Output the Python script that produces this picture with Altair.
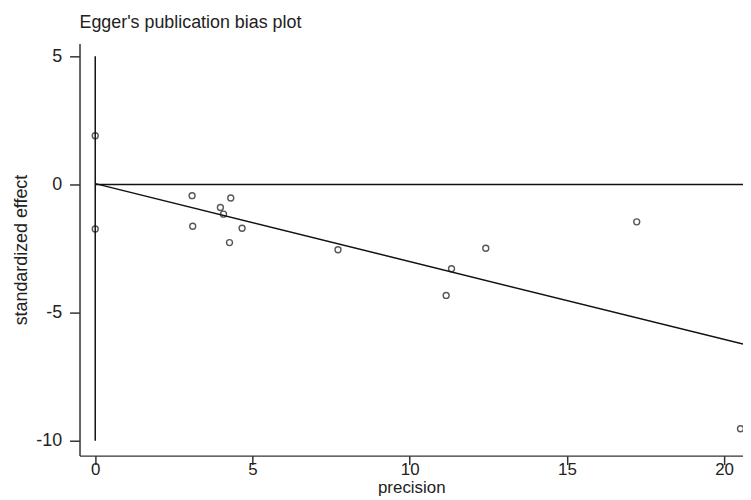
import altair as alt
import pandas as pd

# Study points (precision, standardized effect)
precision = [0.0, 0.0, 3.08, 4.31, 3.98, 4.08, 3.10, 4.67, 4.27, 7.72, 12.42, 11.33, 11.16, 17.22, 20.52]
std_effect = [1.9, -1.74, -0.44, -0.53, -0.90, -1.16, -1.63, -1.71, -2.27, -2.55, -2.49, -3.29, -4.33, -1.46, -9.53]

# Egger regression line end points
reg_x = [0.0, 20.6]
reg_y = [0.03, -6.23]

# Reference lines
zero_x = [0.0, 20.6]
zero_y = [0.0, 0.0]
ci_x = [0.0, 0.0]
ci_y = [-10.0, 5.0]

pts = pd.DataFrame({"x": precision, "y": std_effect})
reg = pd.DataFrame({"x": reg_x, "y": reg_y})
zero = pd.DataFrame({"x": zero_x, "y": zero_y})
ci = pd.DataFrame({"x": ci_x, "y": ci_y})

FONT = "Liberation Sans"
FS = 18
xscale = alt.Scale(domain=[-0.5, 20.6], nice=False, zero=False)
yscale = alt.Scale(domain=[-10.58, 5.5], nice=False, zero=False)

xaxis = alt.Axis(title="precision", values=[0, 5, 10, 15, 20], grid=False,
                 labelExpr="'' + datum.value",
                 tickSize=9, labelPadding=-3, titlePadding=2, domainWidth=1.5,
                 tickWidth=1.5, domainColor="#333", tickColor="#333",
                 labelFont=FONT, labelFontSize=17, labelColor="#222",
                 titleFont=FONT, titleFontSize=17, titleFontWeight="normal", titleColor="#222")
yaxis = alt.Axis(title="standardized effect", values=[-10, -5, 0, 5], grid=False,
                 labelExpr="'' + datum.value",
                 tickSize=10, labelPadding=8, titlePadding=5, domainWidth=1.5,
                 tickWidth=1.5, domainColor="#333", tickColor="#333",
                 labelFont=FONT, labelFontSize=FS, labelColor="#222",
                 titleFont=FONT, titleFontSize=FS, titleFontWeight="normal", titleColor="#222")

base_x = alt.X("x:Q", scale=xscale, axis=xaxis)
base_y = alt.Y("y:Q", scale=yscale, axis=yaxis)

ci_line = alt.Chart(ci).mark_line(color="#111", strokeWidth=1.5).encode(x=base_x, y=base_y)
zero_line = alt.Chart(zero).mark_line(color="#111", strokeWidth=1.5).encode(x="x:Q", y="y:Q")
reg_line = alt.Chart(reg).mark_line(color="#111", strokeWidth=1.5).encode(x="x:Q", y="y:Q")
points = alt.Chart(pts).mark_point(shape="circle", filled=False, color="#111",
                                   size=36, strokeWidth=1.4).encode(x="x:Q", y="y:Q")

chart = alt.layer(ci_line, zero_line, reg_line, points).properties(
    width=668, height=415,
    title=alt.TitleParams("Egger's publication bias plot", anchor="start", frame="group",
                          font=FONT, fontSize=FS, fontWeight="normal", color="#222", offset=12),
    autosize=alt.AutoSizeParams(type="none"),
    padding={"left": 72, "top": 34, "right": 0, "bottom": 42},
).configure_view(stroke=None)

chart.save("out.html", embed_options={"renderer": "svg", "actions": False})
